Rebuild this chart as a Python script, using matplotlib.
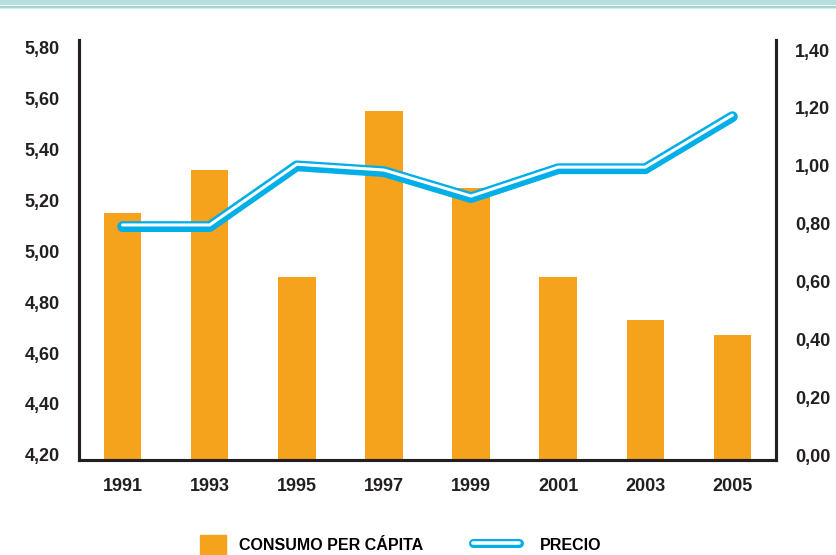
import matplotlib.pyplot as plt
import matplotlib.transforms as mtransforms
from matplotlib.patches import Rectangle
from matplotlib.lines import Line2D
from matplotlib.legend_handler import HandlerTuple

plt.rcParams['font.family'] = 'Liberation Sans'
plt.rcParams['font.weight'] = 'bold'

years = ['1991', '1993', '1995', '1997', '1999', '2001', '2003', '2005']
consumo = [5.15, 5.32, 4.90, 5.55, 5.25, 4.90, 4.73, 4.67]
precio = [0.79, 0.79, 1.00, 0.98, 0.89, 0.99, 0.99, 1.17]
left_ticks = [4.20, 4.40, 4.60, 4.80, 5.00, 5.20, 5.40, 5.60, 5.80]
right_ticks = [0.00, 0.20, 0.40, 0.60, 0.80, 1.00, 1.20, 1.40]

orange = '#f5a31d'
blue = '#00aee8'
dark = '#231f20'

fig = plt.figure(figsize=(8.37, 5.55), dpi=100)
ax = fig.add_axes([0.0944, 0.1712, 0.8326, 0.7567])
ax2 = ax.twinx()

x = list(range(len(years)))
ybot = 4.18
ax.bar(x, [v - ybot for v in consumo], bottom=ybot, width=0.43, color=orange, zorder=2)
ax.set_ylim(ybot, 5.83)
ax.set_xlim(-0.5, 7.5)
ax2.set_ylim(-0.017, 1.435)

ax2.plot(x, precio, color=blue, lw=7.8, solid_capstyle='round', zorder=3)
shift = mtransforms.offset_copy(ax2.transData, fig=fig, x=0, y=1.6, units='dots')
ax2.plot(x, precio, color='white', lw=2.2, transform=shift, solid_capstyle='round', zorder=4)

ax.set_xticks(x)
ax.set_xticklabels(years)
ax.set_yticks(left_ticks)
ax.set_yticklabels([('%.2f' % t).replace('.', ',') for t in left_ticks])
ax2.set_yticks(right_ticks)
ax2.set_yticklabels([('%.2f' % t).replace('.', ',') for t in right_ticks])

for a in (ax, ax2):
    a.tick_params(length=0, labelsize=13, colors=dark)
    a.spines['top'].set_visible(False)
    for s in ('left', 'right', 'bottom'):
        a.spines[s].set_linewidth(2.2)
        a.spines[s].set_color(dark)
ax.tick_params(axis='y', pad=14)
ax2.tick_params(axis='y', pad=14)
ax.tick_params(axis='x', pad=13)

# top decorative bands
for y0, h, c in [(0.991, 0.009, '#b3dfdd'), (0.9862, 0.0036, '#a3d6d3'), (0.9844, 0.0018, '#d3eeec')]:
    fig.add_artist(Rectangle((0, y0), 1, h, transform=fig.transFigure, color=c, lw=0))

# legend
lprop = {'weight': 'bold', 'size': 11.5}
bar_h = Rectangle((0, 0), 1, 1, color=orange)
fig.legend([bar_h], ['CONSUMO PER CÁPITA'], loc='lower left',
           bbox_to_anchor=(0.222, -0.025), frameon=False, prop=lprop,
           handlelength=1.6, handleheight=1.5, handletextpad=0.8)
line_b = Line2D([0], [0], color=blue, lw=6.5, solid_capstyle='round')
line_w = Line2D([0], [0], color='white', lw=2.6, solid_capstyle='round')
fig.legend([(line_b, line_w)], ['PRECIO'],
           handler_map={tuple: HandlerTuple(ndivide=1)},
           loc='lower left', bbox_to_anchor=(0.548, -0.025), frameon=False,
           prop=lprop, handlelength=2.9, handleheight=1.5, handletextpad=1.3)

fig.savefig('out.png', dpi=100)
